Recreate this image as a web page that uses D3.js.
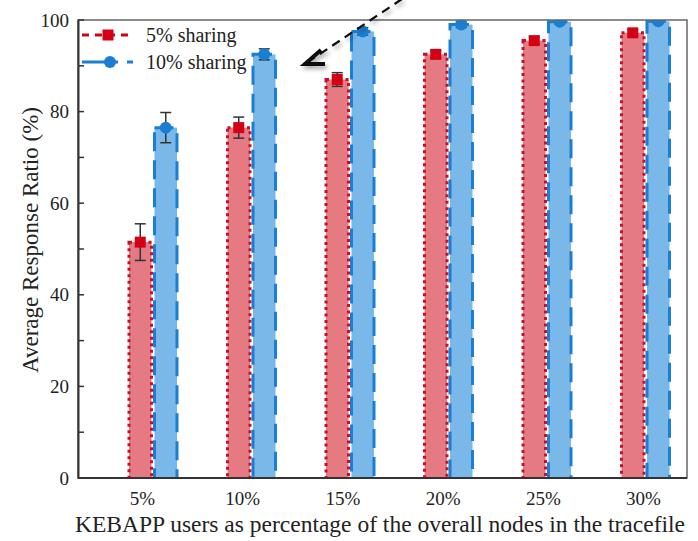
<!DOCTYPE html>
<html><head><meta charset="utf-8">
<script src="https://cdn.jsdelivr.net/npm/d3@7"></script>
<style>body{margin:0;background:#fff}svg{display:block}</style>
</head><body><svg id="c" width="698" height="541" style="font-family:'Liberation Serif',Tinos,'DejaVu Serif',serif"></svg>
<script>
const categories = ["5%","10%","15%","20%","25%","30%"];
const seriesNames = ["5% sharing","10% sharing"];
const share5 = [51.5, 76.5, 87.0, 92.5, 95.5, 97.2];
const share5Err = [4.0, 2.3, 1.5, 0.8, 0.8, 0.7];
const share10 = [76.5, 92.5, 97.5, 99.0, 99.6, 99.7];
const share10Err = [3.3, 1.2, 0.8, 0.6, 0.4, 0.3];
const yTicks = [0,20,40,60,80,100];
const yMinorTicks = [10,30,50,70,90];

const FONT = "'Liberation Serif', Tinos, 'DejaVu Serif', serif";
const svg = d3.select("#c");
const L=78, R=687, T=20, B=478;
const y = d3.scaleLinear().domain([0,100]).range([B,T]);
const xBar = d3.scalePoint().domain(categories).range([153,645.5]);
const xLab = d3.scalePoint().domain(categories).range([142,643]);
const bw = 25.5;

const defs = svg.append("defs");
defs.append("clipPath").attr("id","clip").append("rect").attr("x",L).attr("y",T).attr("width",R-L).attr("height",B-T);
const f = defs.append("filter").attr("id","sh").attr("x","-50%").attr("y","-50%").attr("width","200%").attr("height","200%");
f.append("feDropShadow").attr("dx",2).attr("dy",3).attr("stdDeviation",2).attr("flood-color","#000").attr("flood-opacity",0.35);

const series = [
  {vals:share5, err:share5Err, off:-bw, fill:"#e57a82", stroke:"#c4102a", dash:"3,3.5", mark:"#d40014", shape:"sq"},
  {vals:share10, err:share10Err, off:0, fill:"#79b8e8", stroke:"#1a7fd2", dash:"19,9", mark:"#1a7fd2", shape:"ci"}
];

const g = svg.append("g").attr("clip-path","url(#clip)");
series.forEach(s=>{
  g.selectAll(null).data(categories).enter().append("rect")
    .attr("x",(d)=>xBar(d)+s.off+1.5).attr("width",bw-3)
    .attr("y",(d,i)=>y(s.vals[i])).attr("height",(d,i)=>y(0)-y(s.vals[i])+3)
    .attr("fill",s.fill).attr("stroke",s.stroke).attr("stroke-width",3)
    .attr("stroke-dasharray",s.dash);
});
series.forEach(s=>{
  const eg = g.selectAll(null).data(categories).enter().append("g");
  eg.each(function(d,i){
    const cx = xBar(d)+s.off+bw/2, e = d3.select(this);
    const y1=y(s.vals[i]+s.err[i]), y2=y(s.vals[i]-s.err[i]);
    e.append("line").attr("x1",cx).attr("x2",cx).attr("y1",y1).attr("y2",y2).attr("stroke","#333").attr("stroke-width",1.5);
    [y1,y2].forEach(yy=>e.append("line").attr("x1",cx-5.5).attr("x2",cx+5.5).attr("y1",yy).attr("y2",yy).attr("stroke","#333").attr("stroke-width",1.5));
    if(s.shape==="sq") e.append("rect").attr("x",cx-5.5).attr("y",y(s.vals[i])-5.5).attr("width",11).attr("height",11).attr("fill",s.mark);
    else e.append("circle").attr("cx",cx).attr("cy",y(s.vals[i])).attr("r",6).attr("fill",s.mark);
  });
});

// frame
svg.append("rect").attr("x",L).attr("y",T).attr("width",R-L).attr("height",B-T).attr("fill","none").attr("stroke","#666").attr("stroke-width",1.5);

// y axis
const ya = svg.append("g").attr("transform",`translate(${L},0)`)
  .call(d3.axisLeft(y).tickValues(yTicks).tickSize(0).tickPadding(9));
ya.attr("font-family",null).attr("font-size",null);
ya.select(".domain").attr("stroke","#333").attr("stroke-width",2);
ya.selectAll("text").style("font-size","19px").style("font-family",FONT).attr("fill","#222");
svg.append("g").selectAll("line").data(yTicks.concat(yMinorTicks)).enter().append("line")
  .attr("x1",L).attr("x2",L+6).attr("y1",d=>y(d)).attr("y2",d=>y(d)).attr("stroke","#333").attr("stroke-width",1.5);

// x axis
const xa = svg.append("g").attr("transform",`translate(0,${B})`)
  .call(d3.axisBottom(xLab).tickSize(0).tickPadding(14));
xa.attr("font-family",null).attr("font-size",null);
xa.select(".domain").remove();
svg.append("line").attr("x1",L).attr("x2",R).attr("y1",B).attr("y2",B).attr("stroke","#333").attr("stroke-width",2);
xa.selectAll("text").style("font-size","19px").style("font-family",FONT).attr("fill","#222");

// titles
svg.append("text").attr("x",380).attr("y",532).attr("text-anchor","middle").style("font-family",FONT).style("font-size","23.5px").attr("fill","#222").text("KEBAPP users as percentage of the overall nodes in the tracefile");
svg.append("text").attr("transform","translate(38,240) rotate(-90)").attr("text-anchor","middle").style("font-family",FONT).style("font-size","23px").attr("fill","#222").text("Average Response Ratio (%)");

// legend
const lg = svg.append("g");
lg.append("line").attr("x1",82).attr("x2",131).attr("y1",35).attr("y2",35).attr("stroke","#d40014").attr("stroke-width",3).attr("stroke-dasharray","7,6");
lg.append("rect").attr("x",102.5).attr("y",29.5).attr("width",11).attr("height",11).attr("fill","#d40014");
lg.append("text").attr("x",146).attr("y",42).style("font-family",FONT).style("font-size","20px").attr("fill","#222").text(seriesNames[0]);
lg.append("line").attr("x1",82).attr("x2",133).attr("y1",62).attr("y2",62).attr("stroke","#1a7fd2").attr("stroke-width",3).attr("stroke-dasharray","36,9,6");
lg.append("circle").attr("cx",110).attr("cy",62).attr("r",6).attr("fill","#1a7fd2");
lg.append("text").attr("x",146).attr("y",69).style("font-family",FONT).style("font-size","20px").attr("fill","#222").text(seriesNames[1]);

// annotation arrow
const ag = svg.append("g").attr("filter","url(#sh)");
ag.append("line").attr("x1",402).attr("y1",-1).attr("x2",308).attr("y2",62).attr("stroke","#111").attr("stroke-width",2.2).attr("stroke-dasharray","9,6");
ag.append("polyline").attr("points","321,50 305,64 325,64").attr("fill","none").attr("stroke","#111").attr("stroke-width",4).attr("stroke-linejoin","miter");
</script></body></html>
